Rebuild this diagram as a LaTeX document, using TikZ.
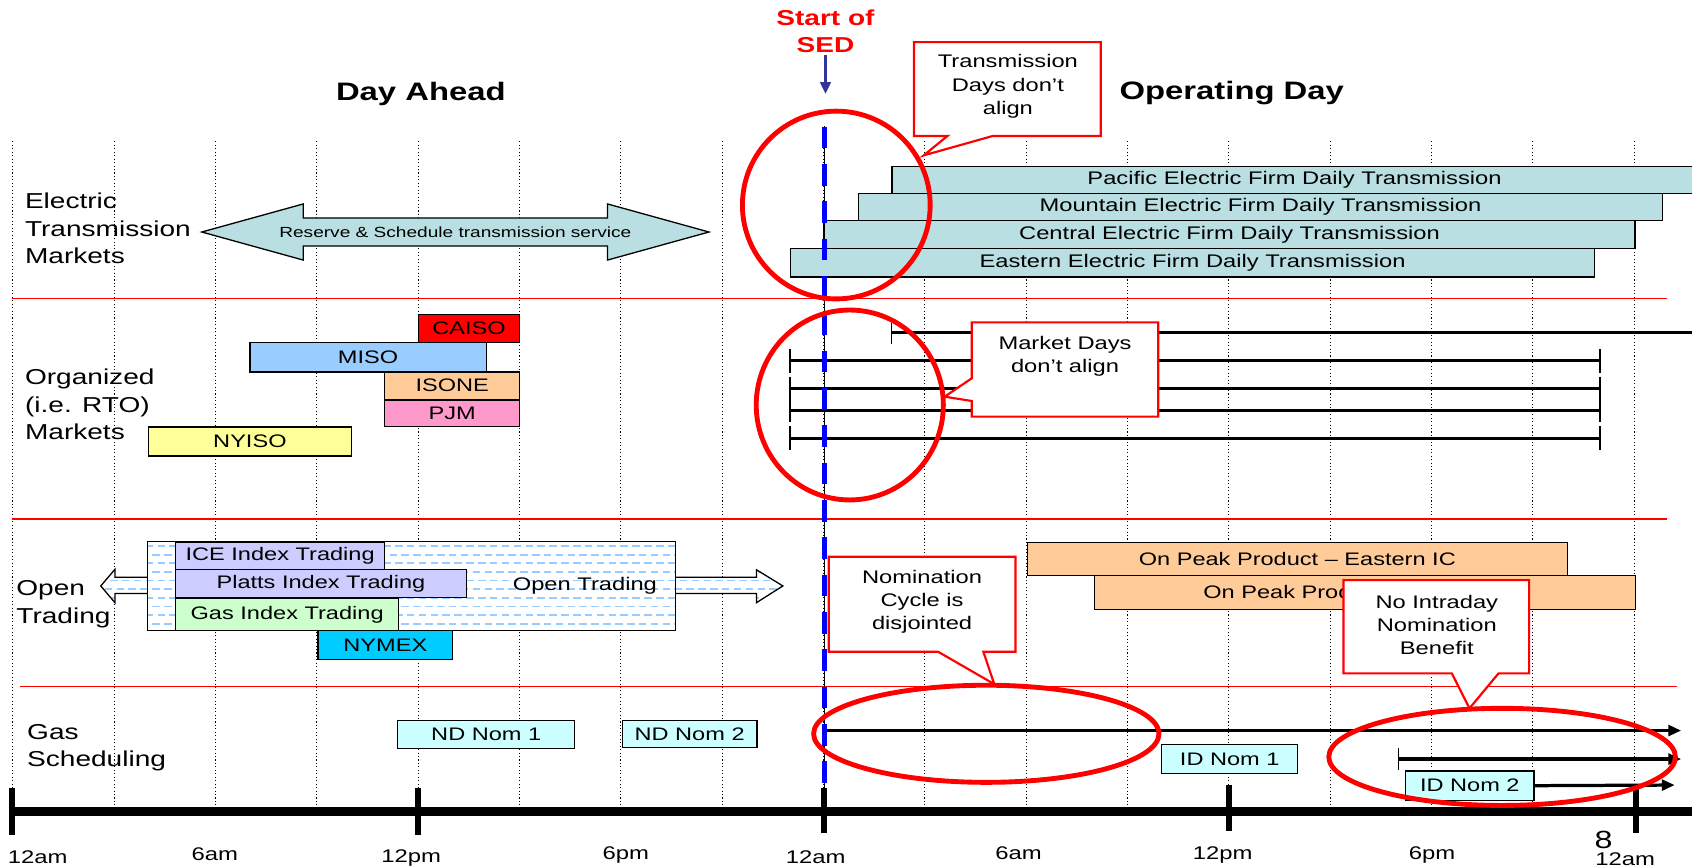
\documentclass[tikz,border=0pt]{standalone}
\usepackage{fontspec}
\setmainfont{Liberation Sans}[FakeStretch=1.3]
\usetikzlibrary{arrows.meta}
\definecolor{ebarc}{RGB}{185,223,227}
\definecolor{navyc}{RGB}{51,51,153}
\definecolor{dashc}{RGB}{153,204,255}
\definecolor{misoc}{RGB}{153,204,255}
\definecolor{peachc}{RGB}{255,204,153}
\definecolor{pinkc}{RGB}{255,153,204}
\definecolor{yelc}{RGB}{255,255,153}
\definecolor{lavc}{RGB}{204,204,255}
\definecolor{mintc}{RGB}{204,255,204}
\definecolor{cyanc}{RGB}{0,204,255}
\definecolor{nomc}{RGB}{204,255,255}
\definecolor{sedblue}{RGB}{0,0,255}
\newcommand\OTpattern{%
  \foreach \yy in {506,522,...,582}{\draw[dashc,line width=1.6pt,dash pattern=on 7pt off 4pt] (80,\yy) -- (760,\yy);}%
  \foreach \yy in {514,530,...,582}{\draw[dashc,line width=1.6pt,dash pattern=on 7pt off 4pt,dash phase=5pt] (80,\yy) -- (760,\yy);}}
\begin{document}
\begin{tikzpicture}[x=1pt,y=-1pt,
  lbl/.style={font=\fontsize{20}{25.5}\selectfont, align=left, anchor=west, inner sep=0pt},
  box/.style={draw=black, line width=1.2pt, anchor=north west, inner sep=0pt, font=\fontsize{16.8}{20}\selectfont},
  ebar/.style={box, fill=ebarc, font=\fontsize{16.9}{20}\selectfont},
  ctext/.style={font=\fontsize{16.9}{21.5}\selectfont, align=center, inner sep=0pt},
  callout/.style={draw=red, line width=2pt, fill=white, line join=miter},
  ring/.style={draw=red, line width=4.5pt},
  sep/.style={draw=red, line width=1.5pt},
  gridline/.style={line width=1pt, dash pattern=on 1pt off 2.2pt},
  tlab/.style={font=\fontsize{17}{19}\selectfont, inner sep=0pt},
  tickmark/.style={line width=5.5pt},
  mline/.style={line width=3pt},
  thintick/.style={line width=1.5pt},
  garrow/.style={line width=3pt, -{Triangle[length=12pt,width=10pt]}},
  head/.style={font=\bfseries\fontsize{23.4}{28}\selectfont, inner sep=0pt},
]
\useasboundingbox (0,0) rectangle (1568,804);
\fill[white] (0,0) rectangle (1568,804);

% grid
\foreach \k in {0,...,16} \draw[gridline] (12+93.9*\k,131) -- (12+93.9*\k,746);

% separators
\draw[sep] (11,276.5) -- (1545,276.5);
\draw[sep] (11,481) -- (1545,481);
\draw[sep] (18.6,636) -- (1554,636);

% SED solid line
\draw[line width=1.5pt] (764,117) -- (764,730);

% double arrow
\draw[fill=ebarc, line width=1.2pt, line join=miter] (187,215) -- (281,189) -- (281,202) -- (563,202) -- (563,189) -- (657,215) -- (563,241) -- (563,228) -- (281,228) -- (281,241) -- cycle;
\node[font=\fontsize{13.6}{16}\selectfont, inner sep=0pt] (rst) at (422,215) {Reserve \& Schedule transmission service};

% electric bars
\node[ebar, minimum width=746pt, minimum height=25pt] (pac) at (826,153.5) {Pacific Electric Firm Daily Transmission};
\node[ebar, minimum width=745pt, minimum height=25.5pt] (mtn) at (795,178.5) {Mountain Electric Firm Daily Transmission};
\node[ebar, minimum width=751.6pt, minimum height=26pt] (cen) at (763,204) {Central Electric Firm Daily Transmission};
\node[ebar, minimum width=745pt, minimum height=26pt] (eas) at (732,230) {Eastern Electric Firm Daily Transmission};

% market lines
\draw[mline] (826,308) -- (1580,308);
\draw[thintick] (826,299) -- (826,319);
\foreach \yy in {334.2,359.9,380.3,406.2}{
  \draw[mline] (732,\yy) -- (1483,\yy);
  \draw[thintick] (732,\yy-11) -- (732,\yy+11);
  \draw[thintick] (1483,\yy-11) -- (1483,\yy+11);
}

% organized market boxes
\node[box, fill=red, minimum width=94pt, minimum height=26pt] (caiso) at (387,291) {CAISO};
\node[box, fill=misoc, minimum width=219pt, minimum height=27pt] (miso) at (231,317) {MISO};
\node[box, fill=peachc, minimum width=125pt, minimum height=25.5pt] (isone) at (356,344) {ISONE};
\node[box, fill=pinkc, minimum width=125pt, minimum height=24.5pt] (pjm) at (356,370) {PJM};
\node[box, fill=yelc, minimum width=188pt, minimum height=27pt] (nyiso) at (137,395) {NYISO};

% open trading arrows
\fill[white] (137,535) -- (106.5,535) -- (106.5,527.6) -- (93.4,543) -- (106.5,558.5) -- (106.5,550) -- (137,550) -- cycle;
\begin{scope}
\clip (137,535) -- (106.5,535) -- (106.5,527.6) -- (93.4,543) -- (106.5,558.5) -- (106.5,550) -- (137,550) -- cycle;
\OTpattern
\end{scope}
\draw[line width=1.2pt, line join=miter] (137,535) -- (106.5,535) -- (106.5,527.6) -- (93.4,543) -- (106.5,558.5) -- (106.5,550) -- (137,550);

\fill[white] (625.5,535) -- (701,535) -- (701,528) -- (725.5,543) -- (701,558.5) -- (701,550) -- (625.5,550) -- cycle;
\begin{scope}
\clip (625.5,535) -- (701,535) -- (701,528) -- (725.5,543) -- (701,558.5) -- (701,550) -- (625.5,550) -- cycle;
\OTpattern
\end{scope}
\draw[line width=1.2pt, line join=miter] (625.5,535) -- (701,535) -- (701,528) -- (725.5,543) -- (701,558.5) -- (701,550) -- (625.5,550);

% open trading box
\node[anchor=north west, inner sep=0pt, fill=white, minimum width=488.5pt, minimum height=82pt] (otbox) at (137,502) {};
\begin{scope}
\clip (otbox.north west) rectangle (otbox.south east);
\OTpattern
\end{scope}
\draw[line width=1.2pt] (otbox.north west) rectangle (otbox.south east);
\node[font=\fontsize{16.9}{20}\selectfont, inner sep=0pt] (ottext) at (542,543) {Open Trading};
\node[box, fill=lavc, minimum width=194pt, minimum height=25.3pt] (ice) at (162,502) {ICE Index Trading};
\node[box, fill=lavc, minimum width=269.6pt, minimum height=25.7pt] (platts) at (162,527.3) {Platts Index Trading};
\node[box, fill=mintc, minimum width=207pt, minimum height=30pt] (gasidx) at (162,554) {Gas Index Trading};
\node[box, fill=cyanc, minimum width=125pt, minimum height=26.5pt] (nymex) at (294,584) {NYMEX};

% on peak
\node[box, fill=peachc, minimum width=500.7pt, minimum height=31pt] (op1) at (951.3,502) {On Peak Product – Eastern IC};
\node[box, fill=peachc, minimum width=501pt, minimum height=31pt] (op2) at (1014,533) {};
\node[anchor=west, inner sep=0pt, font=\fontsize{16.8}{20}\selectfont] (op2t) at (1115,548.5) {On Peak Product};

% gas scheduling
\node[box, fill=nomc, minimum width=164pt, minimum height=26.3pt] (nd1) at (368,667) {ND Nom 1};
\node[box, fill=nomc, minimum width=125pt, minimum height=25pt] (nd2) at (576,667) {ND Nom 2};
\node[box, fill=nomc, minimum width=126pt, minimum height=26.5pt] (id1) at (1076,689.5) {ID Nom 1};
\node[box, fill=nomc, minimum width=119pt, minimum height=27pt] (id2) at (1302,714) {ID Nom 2};
\coordinate (g1s) at (764,677);
\coordinate (g1e) at (1558,677);
\coordinate (g2s) at (1296,703.4);
\coordinate (g2e) at (1558,703.4);
\coordinate (g3e) at (1552,727.5);
\draw[garrow] (g1s) -- (g1e);
\draw[garrow] (g2s) -- (g2e);
\draw[thintick] (1296,693.5) -- (1296,713.6);
\draw[garrow] (id2.east) -- (g3e);

% timeline
\draw[line width=7.5pt] (10,752) -- (1580,752);
\foreach \xx/\ya/\yb in {11/730/773.5, 387/730/773.5, 764/730/772, 1139/727/770, 1516/731/772}
  \draw[tickmark] (\xx,\ya) -- (\xx,\yb);
\node[tlab] (t0) at (35,794) {12am};
\node[tlab] (t1) at (199,791.6) {6am};
\node[tlab] (t2) at (381,795.4) {12pm};
\node[tlab] (t3) at (580,792) {6pm};
\node[tlab] (t4) at (756,794.8) {12am};
\node[tlab] (t5) at (944,790.4) {6am};
\node[tlab] (t6) at (1133,792.5) {12pm};
\node[tlab] (t7) at (1327,792.6) {6pm};
\node[tlab] (t8) at (1506,796.3) {12am};
\node[font=\fontsize{23}{26}\selectfont, inner sep=0pt] (pg) at (1486,778.7) {8};

% blue dashed SED line
\coordinate (sedtop) at (764,117.4);
\coordinate (sedbot) at (764,730);
\draw[sedblue, line width=5pt, dash pattern=on 20pt off 14.6pt] (sedtop) -- (sedbot);

% ellipses
\draw[ring] (775,190) ellipse [x radius=87pt, y radius=87pt];
\draw[ring] (787.5,375.3) ellipse [x radius=86.7pt, y radius=88pt];
\draw[ring] (914,680) ellipse [x radius=160pt, y radius=45pt];
\draw[ring] (1392,701.4) ellipse [x radius=160.6pt, y radius=45pt];

% callouts
\draw[callout] (847,39) -- (1020,39) -- (1020,126) -- (920,126) -- (856,144) -- (878,126) -- (847,126) -- cycle;
\node[ctext] (c1) at (934,80) {Transmission\\Days don’t\\align};
\draw[callout] (900.5,298.7) -- (1073.3,298.7) -- (1073.3,386.1) -- (900.5,386.1) -- (900.5,371.6) -- (875.4,367.6) -- (900.5,350.6) -- cycle;
\node[ctext] (c2) at (987,330) {Market Days\\don’t align};
\draw[callout] (768,516) -- (941,516) -- (941,604) -- (911.3,604) -- (921.4,634) -- (869.4,604) -- (768,604) -- cycle;
\node[ctext] (c3) at (854.5,557.5) {Nomination\\Cycle is\\disjointed};
\draw[callout] (1245,537.6) -- (1417,537.6) -- (1417,624) -- (1388.7,624) -- (1361.8,656.4) -- (1345.4,624) -- (1245,624) -- cycle;
\node[ctext] (c4) at (1331.5,579) {No Intraday\\Nomination\\Benefit};

% left labels
\node[lbl] (elab) at (23,211.6) {Electric\\Transmission\\Markets};
\node[lbl] (olab) at (23,375) {Organized\\(i.e. RTO)\\Markets};
\node[lbl] (tlab) at (15,560) {Open\\Trading};
\node[lbl] (glab) at (25,693) {Gas\\Scheduling};

% headings
\node[font=\bfseries\fontsize{20}{25.7}\selectfont, text=red, align=center, inner sep=0pt] (sed) at (765,29) {Start of\\SED};
\coordinate (sedtip) at (765,87);
\draw[navyc, line width=2pt, -{Triangle[length=11pt,width=10pt]}, shorten <=2pt] (sed.south) -- (sedtip);
\node[head] (da) at (390,87.5) {Day Ahead};
\node[head] (od) at (1141.5,86) {Operating Day};
\end{tikzpicture}
\end{document}
